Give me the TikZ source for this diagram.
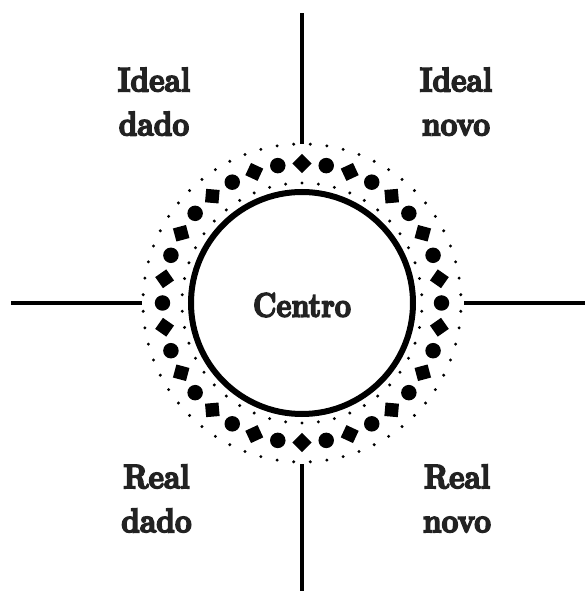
\documentclass[tikz,border=0pt]{standalone}
\usepackage{fontspec}
\usepackage{tikz}
\usetikzlibrary{calc}

\newfontfamily\fatface[FakeBold=5]{lmroman10-bold.otf}
\definecolor{inkgray}{HTML}{222222}

\tikzset{
  spoke/.style={line width=4pt},
  quadtext/.style={font=\fatface\fontsize{34}{44}\selectfont, text=inkgray,
    align=center, inner sep=0pt, xscale=0.86},
  smalldot/.style={circle, fill=black, inner sep=0pt, minimum size=3.3pt},
  bead/.style={circle, fill=black, inner sep=0pt, minimum size=15.5pt},
  tile/.style={rectangle, fill=black, inner sep=0pt, minimum size=13.5pt}
}

\begin{document}
\begin{tikzpicture}[x=1pt,y=1pt]
\useasboundingbox (-302,-288) rectangle (283,303);

% Centre circle
\draw[line width=6pt] (0,0) circle (111);
\node[quadtext, xscale=0.97, anchor=base] (centro) at (0,-13.7) {Centro};

% Spokes
\coordinate (n1) at (0,159);   \coordinate (n2) at (0,290);
\coordinate (s1) at (0,-161);  \coordinate (s2) at (0,-288);
\coordinate (e1) at (162,0);   \coordinate (e2) at (283,0);
\coordinate (w1) at (-160,0);  \coordinate (w2) at (-291,0);
\draw[spoke] (n1)--(n2);
\draw[spoke] (s1)--(s2);
\draw[spoke] (e1)--(e2);
\draw[spoke] (w1)--(w2);

% Inner ring of dots
\foreach \i in {0,...,45}
  \node[smalldot] (in-\i) at ({90+\i*360/46}:120) {};

% Ring of beads and tiles
\foreach \i in {0,...,17} {
  \node[bead] (bead-\i) at ({80+\i*20}:139.5) {};
  \node[tile, rotate=135+\i*20] (tile-\i) at ({90+\i*20}:139.5) {};
}

% Outer ring of dots
\foreach \i in {0,...,59}
  \node[smalldot] (out-\i) at ({3+\i*6}:159) {};

% Quadrants
\node[quadtext] (idealdado) at (-148,201.3) {Ideal\\dado};
\node[quadtext] (idealnovo) at (154,201.3) {Ideal\\novo};
\node[quadtext] (realdado) at (-145.5,-195.5) {Real\\dado};
\node[quadtext] (realnovo) at (155,-195.5) {Real\\novo};

\end{tikzpicture}
\end{document}
